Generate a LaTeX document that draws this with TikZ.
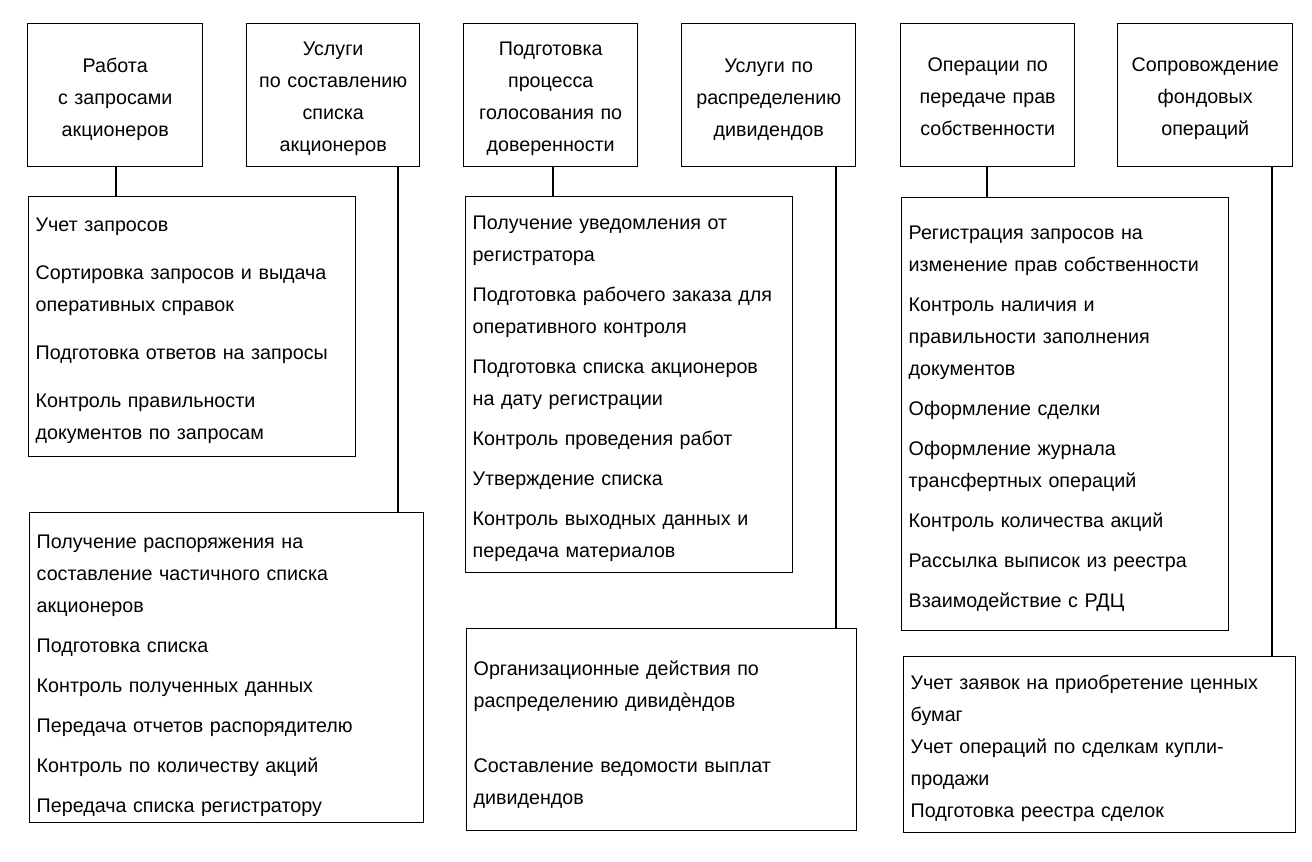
\documentclass[tikz,border=0pt]{standalone}
\usepackage{fontspec}
\setmainfont{Liberation Sans}
\newcommand{\topgap}[1]{\rule{0pt}{#1}}
\begin{document}
\begin{tikzpicture}[x=1pt,y=-1pt,
  every node/.style={font=\fontsize{19.7}{32}\selectfont},
  tbox/.style={draw, line width=1.4pt, anchor=north west, align=center, inner xsep=7pt, inner ysep=0pt, minimum height=143pt},
  lbox/.style={draw, line width=1.4pt, anchor=north west, align=left, inner xsep=7pt, inner ysep=0pt},
  conn/.style={line width=1.4pt}]
\useasboundingbox (0,0) rectangle (1312,862);
% top boxes
\node[tbox, text width=161pt] (t1) at (27,23) {\topgap{22pt}Работа\\с запросами\\акционеров};
\node[tbox, text width=159pt] (t2) at (246,23) {\topgap{20pt}Услуги\\по составлению\\списка\\акционеров};
\node[tbox, text width=160pt] (t3) at (463,23) {\topgap{20pt}Подготовка\\процесса\\голосования по\\доверенности};
\node[tbox, text width=160pt] (t4) at (681,23) {\topgap{22pt}Услуги по\\распределению\\дивидендов};
\node[tbox, text width=160pt] (t5) at (900,23) {\topgap{17pt}Операции по\\передаче прав\\собственности};
\node[tbox, text width=161pt] (t6) at (1117,23) {\topgap{20pt}Сопровождение\\фондовых\\операций};
% lower boxes
\node[lbox, text width=313pt, minimum height=260pt] (l1) at (28,196) {\topgap{22pt}Учет запросов\\[16pt]Сортировка запросов и выдача\\оперативных справок\\[16pt]Подготовка ответов на запросы\\[16pt]Контроль правильности\\документов по запросам};
\node[lbox, text width=380pt, minimum height=310pt] (l2) at (29,512) {\topgap{30pt}Получение распоряжения на\\составление частичного списка\\акционеров\\[8pt]Подготовка списка\\[8pt]Контроль полученных данных\\[8pt]Передача отчетов распорядителю\\[8pt]Контроль по количеству акций\\[8pt]Передача списка регистратору};
\node[lbox, text width=313pt, minimum height=376pt] (l3) at (465,196) {\topgap{22pt}Получение уведомления от\\регистратора\\[8pt]Подготовка рабочего заказа для\\оперативного контроля\\[8pt]Подготовка списка акционеров\\на дату регистрации\\[8pt]Контроль проведения работ\\[8pt]Утверждение списка\\[8pt]Контроль выходных данных и\\передача материалов};
\node[lbox, text width=376pt, minimum height=202pt] (l4) at (466,628) {\topgap{24pt}Организационные действия по\\распределению дивидѐндов\\[33pt]Составление ведомости выплат\\дивидендов};
\node[lbox, text width=313pt, minimum height=433pt] (l5) at (901,197) {\topgap{22pt}Регистрация запросов на\\изменение прав собственности\\[8pt]Контроль наличия и\\правильности заполнения\\документов\\[8pt]Оформление сделки\\[8pt]Оформление журнала\\трансфертных операций\\[8pt]Контроль количества акций\\[8pt]Рассылка выписок из реестра\\[8pt]Взаимодействие с РДЦ};
\node[lbox, text width=378pt, minimum height=176pt] (l6) at (903,656) {\topgap{22pt}Учет заявок на приобретение ценных\\бумаг\\Учет операций по сделкам купли-\\продажи\\Подготовка реестра сделок};
% connectors
\coordinate (c1) at (116,0);
\coordinate (c2) at (398,0);
\coordinate (c3) at (553,0);
\coordinate (c4) at (836,0);
\coordinate (c5) at (987,0);
\coordinate (c6) at (1272,0);
\draw[conn] (c1 |- t1.south) -- (c1 |- l1.north);
\draw[conn] (c2 |- t2.south) -- (c2 |- l2.north);
\draw[conn] (c3 |- t3.south) -- (c3 |- l3.north);
\draw[conn] (c4 |- t4.south) -- (c4 |- l4.north);
\draw[conn] (c5 |- t5.south) -- (c5 |- l5.north);
\draw[conn] (c6 |- t6.south) -- (c6 |- l6.north);
\end{tikzpicture}
\end{document}
